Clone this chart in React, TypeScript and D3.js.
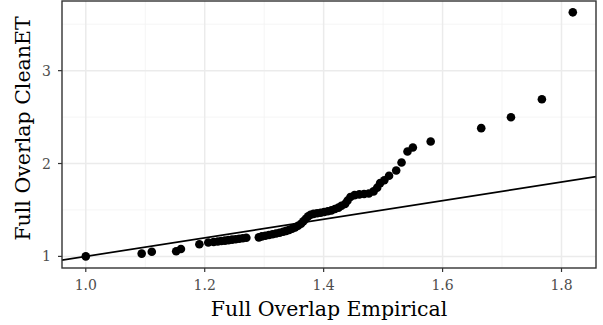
import React from 'react';
import * as d3 from 'd3';

// sorted quantiles
const empirical = [
  1.000, 1.094, 1.111, 1.152, 1.160, 1.191, 1.206, 1.215, 1.222, 1.228,
  1.234, 1.240, 1.246, 1.252, 1.258, 1.264, 1.270, 1.291, 1.296, 1.302,
  1.308, 1.314, 1.320, 1.326, 1.332, 1.337, 1.342, 1.347, 1.352, 1.357,
  1.362, 1.366, 1.370, 1.374, 1.378, 1.383, 1.389, 1.395, 1.401, 1.407,
  1.413, 1.419, 1.425, 1.430, 1.436, 1.440, 1.445, 1.452, 1.460, 1.468,
  1.476, 1.484, 1.490, 1.495, 1.502, 1.510, 1.522, 1.531, 1.541, 1.550,
  1.580, 1.665, 1.715, 1.767, 1.819,
];
const cleanET = [
  1.000, 1.030, 1.050, 1.055, 1.080, 1.130, 1.150, 1.155, 1.160, 1.165,
  1.170, 1.175, 1.180, 1.185, 1.190, 1.195, 1.200, 1.205, 1.215, 1.222,
  1.230, 1.238, 1.247, 1.255, 1.265, 1.275, 1.285, 1.297, 1.312, 1.330,
  1.352, 1.378, 1.405, 1.432, 1.448, 1.458, 1.465, 1.470, 1.478, 1.486,
  1.495, 1.510, 1.525, 1.545, 1.565, 1.600, 1.640, 1.660, 1.668, 1.672,
  1.678, 1.700, 1.740, 1.789, 1.820, 1.868, 1.925, 2.011, 2.129, 2.172,
  2.237, 2.381, 2.499, 2.692, 3.628,
];
const xTicks = [1.0, 1.2, 1.4, 1.6, 1.8];
const xMinor = [1.1, 1.3, 1.5, 1.7];
const yTicks = [1, 2, 3];
const yMinor = [1.5, 2.5, 3.5];

const W = 603;
const H = 325;
const left = 62;
const right = 596;
const top = 1;
const bottom = 268;
const font = "'DejaVu Serif', serif";

export default function App() {
  const x = d3.scaleLinear().domain([0.96, 1.858]).range([left, right]);
  const y = d3.scaleLinear().domain([0.875, 3.75]).range([bottom, top]);
  const pts = empirical.map((e, i) => [e, cleanET[i]]);
  const refLine = d3.line<number>().x((d) => x(d)).y((d) => y(d));

  return (
    <div style={{ position: 'absolute', left: 0, top: 0 }}>
      <svg width={W} height={H} style={{ display: 'block', background: '#fff' }}>
        <defs>
          <clipPath id="panel">
            <rect x={left} y={top} width={right - left} height={bottom - top} />
          </clipPath>
        </defs>
        <rect x={left} y={top} width={right - left} height={bottom - top} fill="#fff" />
        {xMinor.map((t) => (
          <line key={'xm' + t} x1={x(t)} x2={x(t)} y1={top} y2={bottom} stroke="#f2f2f2" strokeWidth={0.8} />
        ))}
        {yMinor.map((t) => (
          <line key={'ym' + t} x1={left} x2={right} y1={y(t)} y2={y(t)} stroke="#f2f2f2" strokeWidth={0.8} />
        ))}
        {xTicks.map((t) => (
          <line key={'xg' + t} x1={x(t)} x2={x(t)} y1={top} y2={bottom} stroke="#ebebeb" strokeWidth={1.5} />
        ))}
        {yTicks.map((t) => (
          <line key={'yg' + t} x1={left} x2={right} y1={y(t)} y2={y(t)} stroke="#ebebeb" strokeWidth={1.5} />
        ))}
        <g clipPath="url(#panel)">
          <path d={refLine([0.9, 2]) || ''} stroke="#000" strokeWidth={1.7} fill="none" />
          {pts.map((p, i) => (
            <circle key={i} cx={x(p[0])} cy={y(p[1])} r={4.3} fill="#000" />
          ))}
        </g>
        <rect x={left} y={top} width={right - left} height={bottom - top} fill="none" stroke="#333" strokeWidth={1.4} />
        {xTicks.map((t) => (
          <g key={'xt' + t}>
            <line x1={x(t)} x2={x(t)} y1={bottom} y2={bottom + 4} stroke="#333" strokeWidth={1.2} />
            <text x={x(t)} y={bottom + 22} textAnchor="middle" fontFamily={font} fontSize={14} fill="#4d4d4d">
              {t.toFixed(1)}
            </text>
          </g>
        ))}
        {yTicks.map((t) => (
          <g key={'yt' + t}>
            <line x1={left - 4} x2={left} y1={y(t)} y2={y(t)} stroke="#333" strokeWidth={1.2} />
            <text x={left - 11} y={y(t) + 5} textAnchor="end" fontFamily={font} fontSize={14} fill="#4d4d4d">
              {t}
            </text>
          </g>
        ))}
        <text x={(left + right) / 2} y={316} textAnchor="middle" fontFamily={font} fontSize={20.5} fill="#000">
          Full Overlap Empirical
        </text>
        <text
          transform={`translate(30,${(top + bottom) / 2 - 6}) rotate(-90)`}
          textAnchor="middle"
          fontFamily={font}
          fontSize={20.5}
          fill="#000"
        >
          Full Overlap CleanET
        </text>
      </svg>
    </div>
  );
}
